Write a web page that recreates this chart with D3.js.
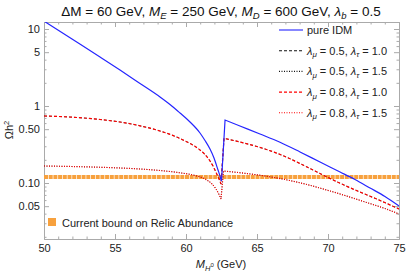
<!DOCTYPE html>
<html>
<head>
<meta charset="utf-8">
<script src="https://cdn.jsdelivr.net/npm/d3@7"></script>
<style>
  body { margin: 0; background: #fff; }
  svg { display: block; font-family: "Liberation Sans", Arial, sans-serif; }
  .frame .domain { stroke: #aaa; }
  .frame line { stroke: #aaa; }
  .frame text { fill: #222; font-size: 11px; }
</style>
</head>
<body>
<svg id="chart" width="409" height="275"></svg>
<script>
// data (relic density vs M_H0)
const massIDM = [50, 51.972, 53.944, 55.352, 56.761, 58.169, 58.873, 59.577, 60.282, 60.986, 61.338, 61.69, 61.972, 62.254, 62.394, 62.5,
  62.75, 63.8, 65.21, 66.62, 68.03, 69.44, 70.85, 71.9, 72.96, 74.01, 75];
const relicIDM = [12.7, 7.42, 4.33, 2.93, 1.96, 1.31, 1.046, 0.811, 0.62, 0.446, 0.356, 0.276, 0.211, 0.1475, 0.1233, 0.1062,
  0.658, 0.55, 0.433, 0.338, 0.253, 0.187, 0.139, 0.111, 0.0861, 0.0668, 0.0503];

const massDashed = [50, 52.042, 53.944, 55.352, 56.761, 58.169, 59.577, 60.986, 61.338, 61.69, 61.972, 62.183, 62.359, 62.465,
  62.676, 64.155, 65.563, 66.972, 68.38, 69.789, 71.197, 72.254, 73.31, 75];
const relicDashed = [0.742, 0.715, 0.668, 0.62, 0.553, 0.4735, 0.378, 0.268, 0.2345, 0.193, 0.1566, 0.129, 0.1094, 0.097,
  0.3805, 0.328, 0.2764, 0.2209, 0.1663, 0.1233, 0.0928, 0.0764, 0.0633, 0.046];

const massDotted = [50, 52.535, 54.648, 56.761, 58.169, 59.577, 60.634, 61.338, 61.831, 62.113, 62.324, 62.465,
  62.64, 64.155, 65.563, 66.972, 68.38, 69.789, 71.197, 72.606, 74.014, 75];
const relicDotted = [0.1663, 0.1628, 0.1585, 0.152, 0.1453, 0.1357, 0.1252, 0.1127, 0.097, 0.0836, 0.0709, 0.062,
  0.1431, 0.1336, 0.1233, 0.111, 0.097, 0.0823, 0.0688, 0.0567, 0.0466, 0.0396];

const relicBound = 0.12;

const xTicks = [50, 55, 60, 65, 70, 75];
const xMinor = d3.range(50, 76, 1);
const yTicks = [0.05, 0.1, 0.5, 1, 5, 10];
const yTickLabels = ['0.05', '0.10', '0.50', '1', '5', '10'];
const yMinor = [0.02, 0.03, 0.04, 0.06, 0.07, 0.08, 0.09, 0.2, 0.3, 0.4, 0.6, 0.7, 0.8, 0.9, 2, 3, 4, 6, 7, 8, 9];

// black curves sit exactly under the red ones in the picture
const series = [
  { name: ['0.5', '1.0'], mass: massDashed, relic: relicDashed, color: '#111', dash: '3,2', w: 0.7 },
  { name: ['0.5', '1.5'], mass: massDotted, relic: relicDotted, color: '#111', dash: '1,1.5', w: 0.7 },
  { name: ['0.8', '1.0'], mass: massDashed, relic: relicDashed, color: '#f00', dash: '3,2', w: 1.2 },
  { name: ['0.8', '1.5'], mass: massDotted, relic: relicDotted, color: '#f00', dash: '1,1.5', w: 1.2 }
];

const svg = d3.select('#chart');
const margin = {top: 22, right: 10, bottom: 36, left: 44};
const width = 409 - margin.left - margin.right,
    height = 275 - margin.top - margin.bottom;

const g = svg.append('g')
  .attr('transform', 'translate(' + margin.left + ',' + margin.top + ')');

const x = d3.scaleLinear().domain([50, 75]).range([0, width]);
const y = d3.scaleLog().domain([0.01874, 12.33]).range([height, 0]);

svg.append('clipPath').attr('id', 'clip')
  .append('rect').attr('width', width).attr('height', height);

// frame + ticks
{
  const fr = g.append('g').attr('class', 'frame');
  fr.append('g').attr('transform', 'translate(0,' + height + ')')
    .call(d3.axisBottom(x).tickValues(xMinor).tickSizeInner(-2.5).tickSizeOuter(0).tickFormat(''));
  fr.append('g').attr('transform', 'translate(0,' + height + ')')
    .call(d3.axisBottom(x).tickValues(xTicks).tickSizeInner(-5).tickSizeOuter(0).tickPadding(5).tickFormat(d3.format('d')));
  fr.append('g')
    .call(d3.axisTop(x).tickValues(xMinor).tickSizeInner(-2.5).tickSizeOuter(0).tickFormat(''));
  fr.append('g')
    .call(d3.axisTop(x).tickValues(xTicks).tickSizeInner(-5).tickSizeOuter(0).tickFormat(''));

  fr.append('g')
    .call(d3.axisLeft(y).tickValues(yMinor).tickSizeInner(-2.5).tickSizeOuter(0).tickFormat(''));
  fr.append('g')
    .call(d3.axisLeft(y).tickValues(yTicks).tickSizeInner(-5).tickSizeOuter(0).tickPadding(4)
      .tickFormat((d, i) => yTickLabels[i]));
  fr.append('g').attr('transform', 'translate(' + width + ',0)')
    .call(d3.axisRight(y).tickValues(yMinor).tickSizeInner(-2.5).tickSizeOuter(0).tickFormat(''));
  fr.append('g').attr('transform', 'translate(' + width + ',0)')
    .call(d3.axisRight(y).tickValues(yTicks).tickSizeInner(-5).tickSizeOuter(0).tickFormat(''));
}

const plot = g.append('g').attr('clip-path', 'url(#clip)');

// relic abundance band
plot.append('line')
  .attr('x1', x(50)).attr('x2', x(75))
  .attr('y1', y(relicBound)).attr('y2', y(relicBound))
  .attr('stroke', '#f7a13e')
  .attr('stroke-width', 4)
  .attr('stroke-dasharray', '4,0.7');

const line = d3.line()
  .x(d => x(d[0]))
  .y(d => y(d[1]))
  .curve(d3.curveMonotoneX);

// smooth branches on each side of the resonance, joined by the jump
const curvePath = (mass, relic) => {
  const pts = mass.map((m, i) => [m, relic[i]]);
  let k = 1;
  while (k < pts.length && pts[k][1] <= pts[k - 1][1]) k++;
  return line(pts.slice(0, k)) + line(pts.slice(k)).replace(/^M/, 'L');
};

series.forEach(s => {
  plot.append('path')
    .attr('fill', 'none')
    .attr('stroke', s.color)
    .attr('stroke-width', s.w)
    .attr('stroke-dasharray', s.dash)
    .attr('d', curvePath(s.mass, s.relic));
});

plot.append('path')
  .attr('fill', 'none')
  .attr('stroke', '#2525ff')
  .attr('stroke-width', 1.2)
  .attr('d', curvePath(massIDM, relicIDM));

// title
const title = svg.append('text')
  .attr('x', 221).attr('y', 16)
  .attr('text-anchor', 'middle')
  .style('font-size', '13.5px')
  .attr('fill', '#111');
title.append('tspan').text('ΔM = 60 GeV, ');
title.append('tspan').style('font-style', 'italic').text('M');
title.append('tspan').style('font-style', 'italic').style('font-size', '9.5px').attr('dy', 3).text('E');
title.append('tspan').attr('dy', -3).text(' = 250 GeV, ');
title.append('tspan').style('font-style', 'italic').text('M');
title.append('tspan').style('font-style', 'italic').style('font-size', '9.5px').attr('dy', 3).text('D');
title.append('tspan').attr('dy', -3).text(' = 600 GeV, ');
title.append('tspan').style('font-style', 'italic').text('λ');
title.append('tspan').style('font-style', 'italic').style('font-size', '9.5px').attr('dy', 3).text('b');
title.append('tspan').attr('dy', -3).text(' = 0.5');

// axis labels
const xl = svg.append('text')
  .attr('x', 221).attr('y', 268)
  .attr('text-anchor', 'middle')
  .style('font-size', '11px').attr('fill', '#222');
xl.append('tspan').style('font-style', 'italic').text('M');
xl.append('tspan').style('font-style', 'italic').style('font-size', '7.5px').attr('dy', 2.5).text('H');
xl.append('tspan').style('font-size', '6px').attr('dy', -4).text('0');
xl.append('tspan').attr('dy', 1.5).text(' (GeV)');

const yl = svg.append('text')
  .attr('transform', 'translate(13,130) rotate(-90)')
  .attr('text-anchor', 'middle')
  .style('font-size', '11px').attr('fill', '#222');
yl.append('tspan').text('Ωh');
yl.append('tspan').style('font-size', '7.5px').attr('dy', -4).text('2');

// legend
{
  const lg = svg.append('g').attr('transform', 'translate(279,30)');
  const rows = [{ color: '#2525ff', dash: null, w: 1.2 }].concat(series);
  rows.forEach((r, i) => {
    const row = lg.append('g').attr('transform', 'translate(0,' + (i * 20.7) + ')');
    row.append('line')
      .attr('x1', 0).attr('x2', 24)
      .attr('stroke', r.color)
      .attr('stroke-width', 1.1)
      .attr('stroke-dasharray', r.dash);
    const t = row.append('text').attr('x', 28).attr('y', 4)
      .style('font-size', '11px').attr('fill', '#222');
    if (!r.name) {
      t.text('pure IDM');
      return;
    }
    t.append('tspan').style('font-style', 'italic').text('λ');
    t.append('tspan').style('font-style', 'italic').style('font-size', '8px').attr('dy', 2.5).text('μ');
    t.append('tspan').attr('dy', -2.5).text(' = ' + r.name[0] + ', ');
    t.append('tspan').style('font-style', 'italic').text('λ');
    t.append('tspan').style('font-style', 'italic').style('font-size', '8px').attr('dy', 2.5).text('τ');
    t.append('tspan').attr('dy', -2.5).text(' = ' + r.name[1]);
  });

  const lb = svg.append('g').attr('transform', 'translate(48,218)');
  lb.append('rect').attr('width', 8).attr('height', 8).attr('fill', '#f7a13e');
  lb.append('text').attr('x', 14).attr('y', 8.5)
    .style('font-size', '11px').attr('fill', '#222')
    .text('Current bound on Relic Abundance');
}
</script>
</body>
</html>
